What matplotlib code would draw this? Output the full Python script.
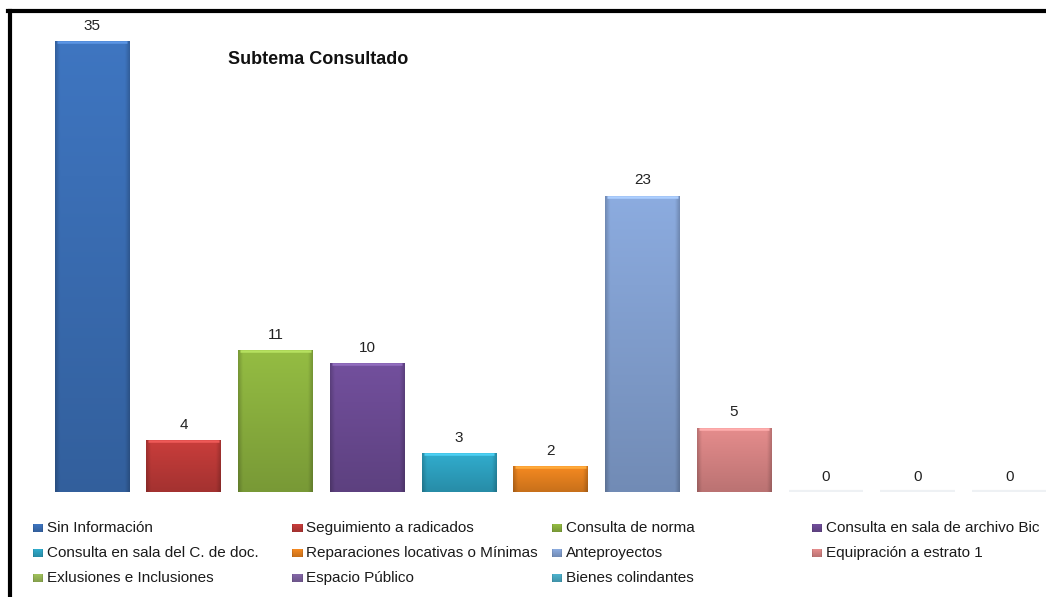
import numpy as np
import matplotlib
matplotlib.use("Agg")
import matplotlib.pyplot as plt
from matplotlib.colors import to_rgb
from matplotlib.patches import Rectangle
from matplotlib.lines import Line2D

plt.rcParams['font.family'] = ['Liberation Sans', 'DejaVu Sans']

# Data
categories = [
    "Sin Información",
    "Seguimiento a radicados",
    "Consulta de norma",
    "Consulta en sala de archivo Bic",
    "Consulta en sala del C. de doc.",
    "Reparaciones locativas o Mínimas",
    "Anteproyectos",
    "Equipración a estrato 1",
    "Exlusiones e Inclusiones",
    "Espacio Público",
    "Bienes colindantes",
]
values = [35, 4, 11, 10, 3, 2, 23, 5, 0, 0, 0]
colors = ["#3b6fb6", "#be3a38", "#8cb23f", "#6c4b94", "#2ea3c2",
          "#e8821f", "#84a2d3", "#d98585", "#9bbb59", "#8064a2", "#4bacc6"]
title = "Subtema Consultado"

W, H = 1046, 597
fig = plt.figure(figsize=(W / 100, H / 100), dpi=100)
fig.patch.set_facecolor("white")

# plot area in pixel coordinates
left_px, right_px, top_px, bottom_px = 46, 1046, 12, 492
ax = fig.add_axes([left_px / W, 1 - bottom_px / H,
                   (right_px - left_px) / W, (bottom_px - top_px) / H])
ax.set_xlim(-0.5, 10.40)
ax.set_ylim(0, 37.24)
ax.axis("off")


def shaded(color, nx=60, ny=120):
    """Bevel-like shading: lighter top, darker bottom and darker side edges."""
    c = np.array(to_rgb(color))
    yy = np.linspace(1, 0, ny)[:, None]          # 1 at top
    xx = np.linspace(0, 1, nx)[None, :]
    vert = 0.86 + 0.20 * yy
    edge = np.minimum(xx, 1 - xx)
    side = 0.82 + 0.18 * np.clip(edge / 0.06, 0, 1)
    f = vert * side
    return np.clip(c[None, None, :] * f[:, :, None], 0, 1)


xs = np.arange(len(values))
bar_w = 0.81
bars = ax.bar(xs, values, width=bar_w, color=colors, linewidth=0)
for b, v, col in zip(bars, values, colors):
    x0 = b.get_x()
    if v > 0:
        b.set_alpha(0)
        im = ax.imshow(shaded(col), extent=[x0, x0 + bar_w, 0, v],
                       aspect="auto", interpolation="bilinear", zorder=2)
        clip = Rectangle((x0, 0), bar_w, v, transform=ax.transData)
        im.set_clip_path(clip)
        # soft highlight along the top edge
        hi = np.clip(np.array(to_rgb(col)) * 1.12 + 0.10, 0, 1)
        ax.plot([x0 + 0.02, x0 + bar_w - 0.02], [v - 0.08, v - 0.08],
                color=hi, lw=1.8, solid_capstyle="butt", zorder=3)
    else:
        ax.plot([x0, x0 + bar_w], [0.05, 0.05], color="#eef1f4", lw=1.6,
                solid_capstyle="butt", zorder=2)
    ax.annotate(f"{v}", (x0 + bar_w / 2, v), xytext=(0, 6),
                textcoords="offset points", ha="center", va="bottom",
                fontsize=11, color="#222222", zorder=3)

fig.text(228 / W, 1 - 60 / H, title, fontsize=13, fontweight="bold",
         ha="left", va="center", color="#111111")

# legend laid out row by row, four columns
col_x = [33, 292, 552, 812]
row_y = [528, 553, 578]
for i, (lab, col) in enumerate(zip(categories, colors)):
    r, c = divmod(i, 4)
    x = col_x[c]
    y = row_y[r]
    mk = fig.add_axes([x / W, 1 - (y + 4) / H, 10 / W, 8 / H])
    mk.imshow(shaded(col, 20, 20), extent=[0, 1, 0, 1], aspect="auto",
              interpolation="bilinear")
    mk.axis("off")
    fig.text((x + 14) / W, 1 - y / H, lab, fontsize=11, ha="left",
             va="center", color="#1a1a1a")

# black frame along the top and left edges
fig.add_artist(Line2D([9.5 / W, 9.5 / W], [0, 1 - 10.5 / H], color="black",
                      lw=3, transform=fig.transFigure))
fig.add_artist(Line2D([8 / W, 1], [1 - 10.5 / H, 1 - 10.5 / H], color="black",
                      lw=3, transform=fig.transFigure))

fig.savefig("out.png", dpi=100, facecolor="white")
